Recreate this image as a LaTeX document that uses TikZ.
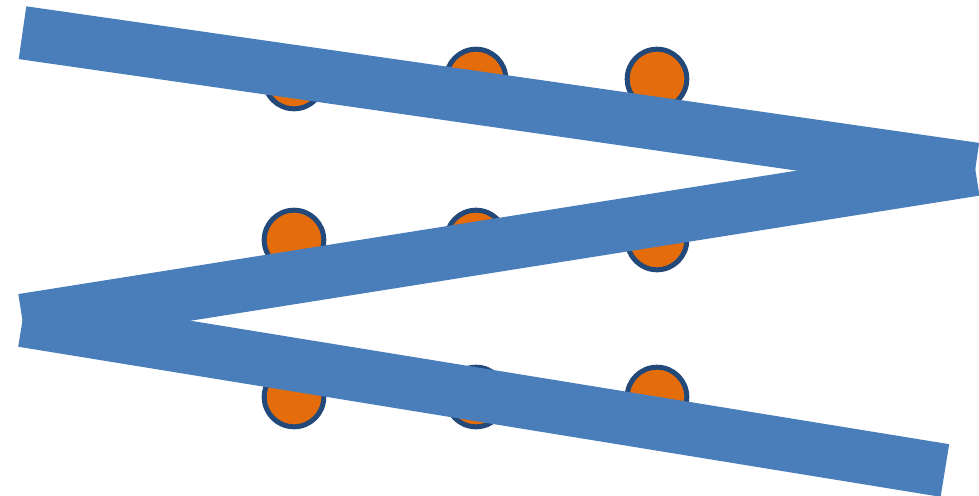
\documentclass[tikz,border=0pt]{standalone}
\usepackage{tikz}
\usepackage{xcolor}

\definecolor{barblue}{RGB}{74,126,187}
\definecolor{dotorange}{RGB}{228,108,10}
\definecolor{dotedge}{RGB}{35,73,122}

\begin{document}
\begin{tikzpicture}[x=0.75pt,y=0.75pt,yscale=-1,xscale=1,
  dot/.style={draw=dotedge,fill=dotorange,line width=3.75pt},
  bar/.style={draw=barblue,line width=40pt,line cap=butt}]
\useasboundingbox (0,0) rectangle (979,496);

%Shape: Circles (3 x 3)
\foreach \px in {294,476,657}
  \foreach \py in {79,240,397}
    \draw [dot] (\px,\py) circle (29.8);

%Straight Lines: upper bar
\draw [bar] (22.5,32.7) -- (975.3,169.3) ;
%Straight Lines: middle bar
\draw [bar] (975.3,169.3) -- (22.5,320.4) ;
%Straight Lines: lower bar
\draw [bar] (22.5,320.4) -- (944.9,470.5) ;

\end{tikzpicture}
\end{document}
